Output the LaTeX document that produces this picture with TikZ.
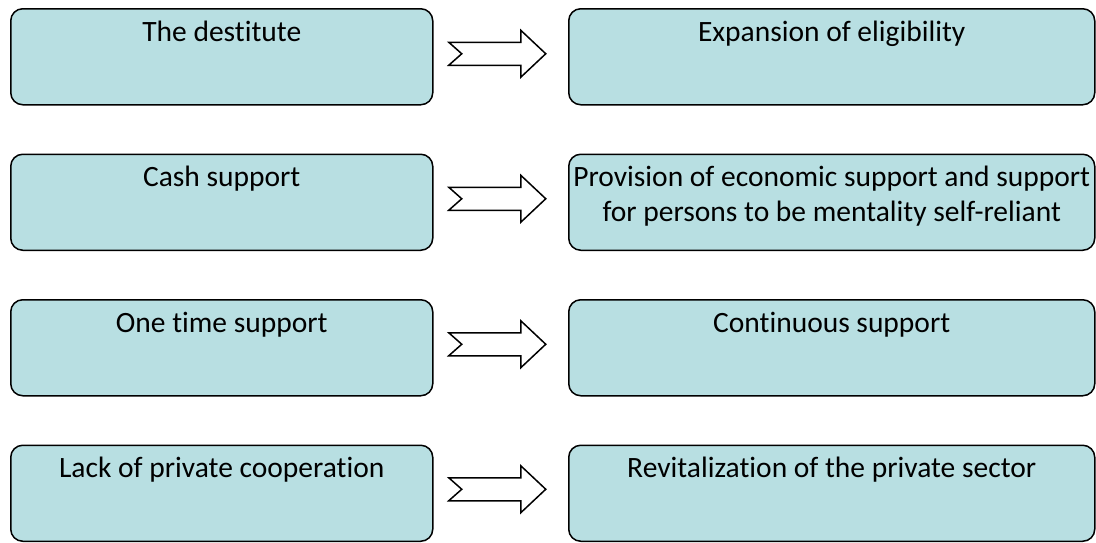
\documentclass[tikz,border=0pt]{standalone}
\usepackage{fontspec}
\setmainfont{Carlito}[Ligatures={NoCommon,NoRequired}]
\usetikzlibrary{calc}
\definecolor{boxfill}{RGB}{184,223,226}
\newcommand{\nolig}{\kern0pt }
\tikzset{
  box/.style={draw=black, line width=1.5pt, fill=boxfill, rounded corners=12pt,
    rectangle, inner sep=0pt, anchor=north west, minimum height=96pt},
  lbox/.style={box, minimum width=422pt},
  rbox/.style={box, minimum width=526pt},
  boxtext/.style={anchor=base, inner sep=0pt, font=\fontsize{29.5}{35}\selectfont},
  fatarrow/.style={draw=black, line width=1.5pt, fill=white, line join=miter},
}
\newcommand{\btext}[2]{\parbox[t]{#1}{\centering #2}}
\newcommand{\fatarrowat}[1]{%
  \draw[fatarrow] ([shift={(-48.5,-11.5)}]#1) -- ([shift={(23.5,-11.5)}]#1)
    -- ([shift={(23.5,-23.5)}]#1) -- ([shift={(48.5,0)}]#1)
    -- ([shift={(23.5,23.5)}]#1) -- ([shift={(23.5,11.5)}]#1)
    -- ([shift={(-48.5,11.5)}]#1) -- ([shift={(-35.5,0)}]#1) -- cycle;}
\begin{document}
\begin{tikzpicture}[x=1pt,y=-1pt]
\useasboundingbox (0,0) rectangle (1096,542);
% row boxes
\node[lbox] (l1) at (10,8) {};
\node[rbox] (r1) at (568,8) {};
\node[lbox] (l2) at (10,153.5) {};
\node[rbox] (r2) at (568,153.5) {};
\node[lbox] (l3) at (10,299) {};
\node[rbox] (r3) at (568,299) {};
\node[lbox] (l4) at (10,444.5) {};
\node[rbox] (r4) at (568,444.5) {};
% texts
\node[boxtext] (tl1) at ($(l1.north)+(0,33)$) {\btext{422pt}{The dest\nolig itute}};
\node[boxtext] (tr1) at ($(r1.north)+(0,33)$) {\btext{526pt}{Expansion of eligibility}};
\node[boxtext] (tl2) at ($(l2.north)+(0,33)$) {\btext{422pt}{Cash support}};
\node[boxtext] (tr2) at ($(r2.north)+(0,33)$) {\btext{526pt}{Provision of economic support and support\\for persons to be mentality self-reliant}};
\node[boxtext] (tl3) at ($(l3.north)+(0,33)$) {\btext{422pt}{One t\nolig ime support}};
\node[boxtext] (tr3) at ($(r3.north)+(0,33)$) {\btext{526pt}{Cont\nolig inuous support}};
\node[boxtext] (tl4) at ($(l4.north)+(0,33)$) {\btext{422pt}{Lack of private cooperat\nolig ion}};
\node[boxtext] (tr4) at ($(r4.north)+(0,33)$) {\btext{526pt}{Revitalizat\nolig ion of the private sector}};
% arrows
\coordinate (a1) at ($(l1.east)!0.5!(r1.west)+(-3.5,-3)$);
\coordinate (a2) at ($(l2.east)!0.5!(r2.west)+(-3.5,-3.5)$);
\coordinate (a3) at ($(l3.east)!0.5!(r3.west)+(-3.5,-3.5)$);
\coordinate (a4) at ($(l4.east)!0.5!(r4.west)+(-3.5,-4)$);
\fatarrowat{a1}
\fatarrowat{a2}
\fatarrowat{a3}
\fatarrowat{a4}
\end{tikzpicture}
\end{document}
